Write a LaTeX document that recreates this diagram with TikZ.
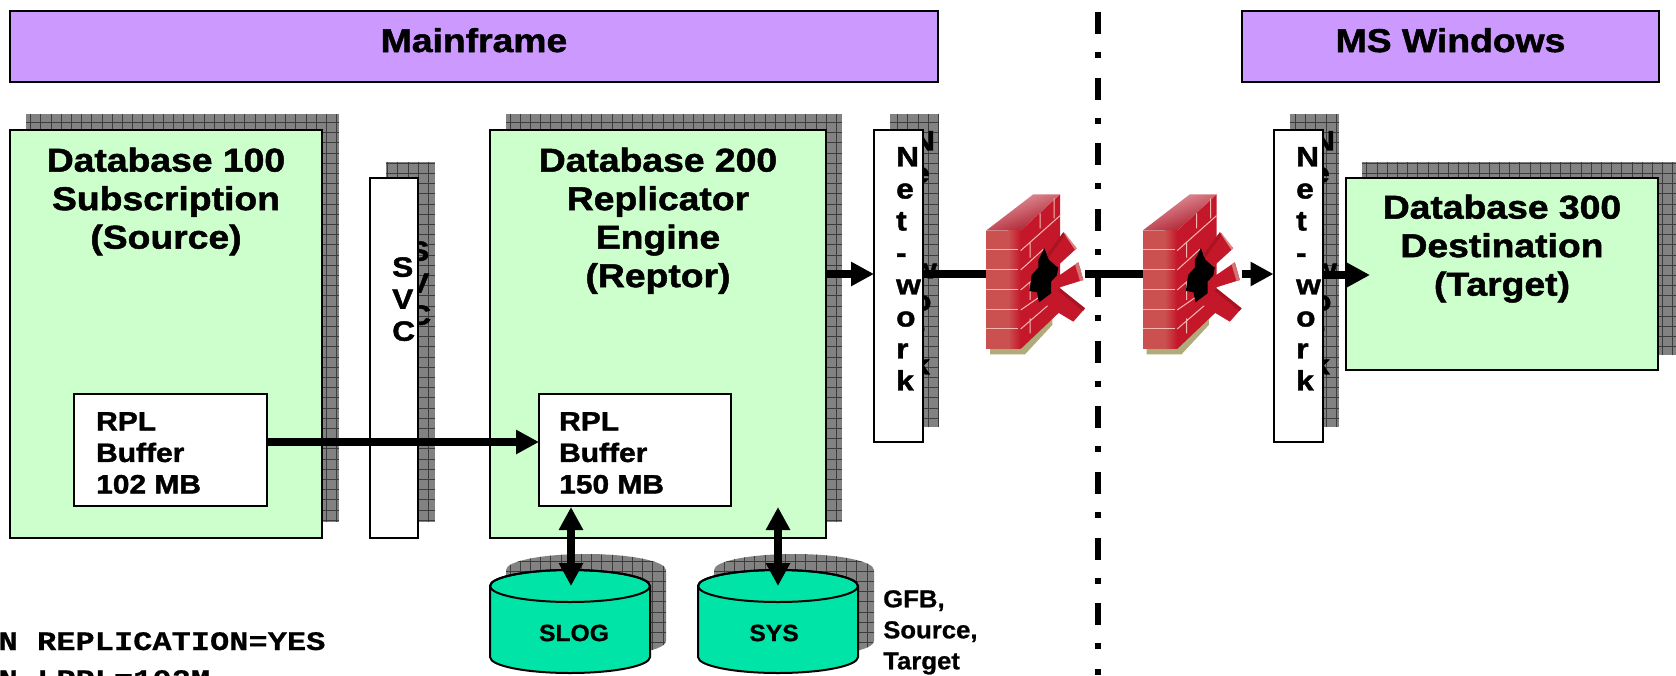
\documentclass[tikz,border=0pt]{standalone}
\usepackage{fontspec}
\usetikzlibrary{arrows.meta}
\newfontfamily\hf[FakeStretch=1.13,FakeBold=1.5]{Liberation Sans}
\newfontfamily\hg[FakeStretch=1.05,FakeBold=0.8]{Liberation Sans}
\newfontfamily\mf[FakeStretch=1.2,FakeBold=0.6]{Liberation Mono}
\definecolor{banner}{HTML}{CC99FF}
\definecolor{dbgreen}{HTML}{CCFFCC}
\definecolor{teal}{HTML}{00E4A8}
\definecolor{shadowgray}{HTML}{828282}
\definecolor{gridgray}{HTML}{3C3C3C}
\definecolor{brickfront}{HTML}{CB5050}
\definecolor{brickside}{HTML}{C4182A}
\definecolor{brickjoint}{HTML}{F4B8B0}
\definecolor{walltop}{HTML}{D8606C}
\definecolor{spikedark}{HTML}{A81422}
\tikzset{
  x=1pt,y=-1pt,
  frame/.style={draw=black,line width=2pt,inner sep=0pt,outer sep=0pt},
  bannerbox/.style={frame,fill=banner},
  dbbox/.style={frame,fill=dbgreen},
  whitebox/.style={frame,fill=white},
  bannertext/.style={inner sep=0pt,font=\hf\bfseries\fontsize{33}{38}\selectfont},
  titletext/.style={inner sep=0pt,align=center,font=\hf\bfseries\fontsize{33}{38.5}\selectfont},
  buftext/.style={inner sep=0pt,align=left,anchor=north west,font=\hf\bfseries\fontsize{26.5}{31.5}\selectfont},
  stacktext/.style={inner sep=0pt,align=left,anchor=north west,font=\hf\bfseries\fontsize{28}{32}\selectfont},
  disktext/.style={inner sep=0pt,font=\hg\bfseries\fontsize{23.5}{31}\selectfont},
  gfbtext/.style={inner sep=0pt,anchor=north west,align=left,font=\hg\bfseries\fontsize{24.5}{31}\selectfont},
  monotext/.style={inner sep=0pt,anchor=base west,font=\mf\bfseries\fontsize{26.7}{38}\selectfont},
  shadowgrid/.style={draw=gridgray,line width=0.7pt,step=10.2pt},
  heavy/.style={line width=8pt,draw=black},
  flow/.style={heavy,-{Triangle[length=23pt,width=23pt]}},
  twoway/.style={heavy,{Triangle[length=23pt,width=23pt]}-{Triangle[length=23pt,width=23pt]}},
}
\newcommand{\shadowrect}[4]{%
  \fill[shadowgray] (#1,#2) rectangle (#3,#4);
  \begin{scope}\clip (#1,#2) rectangle (#3,#4);
  \draw[shadowgrid] (#1,#4) grid (#3,#2);
  \end{scope}}
\newcommand{\cylpath}[4]{(#1,#2) -- (#1,#3) arc[start angle=180,end angle=0,x radius=80,y radius=16] -- (#4,#2) arc[start angle=0,end angle=-180,x radius=80,y radius=16] -- cycle}
\newcommand{\disk}[1]{%
  \pgfmathsetmacro{\xa}{#1}\pgfmathsetmacro{\xb}{#1+160}\pgfmathsetmacro{\xc}{#1+16}\pgfmathsetmacro{\xd}{#1+176}\pgfmathsetmacro{\xm}{#1+80}%
  \fill[shadowgray] \cylpath{\xc}{570}{641}{\xd};
  \begin{scope}\clip \cylpath{\xc}{570}{641}{\xd};
  \draw[shadowgrid] (\xc,660) grid (\xd,550);
  \end{scope}
  \draw[line width=2pt,fill=teal] \cylpath{\xa}{586}{657}{\xb};
  \draw[line width=2pt] (\xm,586) ellipse [x radius=80,y radius=16];}
\newcommand{\firewall}[1]{%
  \begin{scope}[shift={(#1,185)},x=0.3333pt,y=-0.3333pt]
  \fill[white] (20,20) rectangle (345,520);
  \fill[black!30!white!70!olive] (45,490) -- (45,508) -- (150,508) -- (232,420) -- (232,395) -- cycle;
  \fill[brickside] (137,137) -- (255,28) -- (255,380) -- (137,492) -- cycle;
  \shade[top color=walltop!60!white,bottom color=brickside!85!black,shading angle=20] (33,137) -- (175,28) -- (255,28) -- (137,137) -- cycle;
  \fill[brickfront] (33,137) rectangle (137,492);
  \shade[left color=brickfront,right color=brickside] (100,137) rectangle (137,492);
  \foreach \yy in {195,253,315,375,432}
    \draw[brickjoint,line width=1pt] (33,\yy) -- (130,\yy);
  \draw[brickjoint,line width=1pt]
    (137,197) -- (255,92)  (137,255) -- (205,193) (137,315) -- (170,287)
    (137,375) -- (195,335) (137,432) -- (232,350)
    (195,85) -- (195,130) (237,40) -- (237,100) (165,170) -- (165,218)
    (165,290) -- (165,345) (165,400) -- (165,445);
  \fill[black] (190,225) -- (208,190) -- (222,225) -- (250,248) -- (245,272) -- (228,290) -- (228,325) -- (192,352) -- (186,322) -- (163,318) -- (170,270) -- (190,248) -- cycle;
  % spikes
  \fill[brickside] (215,210) -- (265,142) -- (305,190) -- (245,245) -- cycle;
  \fill[spikedark] (215,210) -- (265,142) -- (272,147) -- (222,217) -- cycle;
  \fill[brickfront!70!white] (265,142) -- (272,147) -- (305,190) -- (300,195) -- cycle;
  \fill[brickside] (240,280) -- (310,232) -- (325,285) -- (245,310) -- cycle;
  \fill[brickfront!80!white] (300,238) -- (310,232) -- (325,285) -- (315,288) -- cycle;
  \fill[brickside] (215,360) -- (255,310) -- (330,370) -- (295,410) -- (245,380) -- cycle;
  \fill[spikedark] (255,310) -- (330,370) -- (324,378) -- (250,318) -- cycle;
  \end{scope}}
\begin{document}
\begin{tikzpicture}
\useasboundingbox (0,0) rectangle (1676,675);
\clip (0,0) rectangle (1676,675);

% banners
\node[bannerbox,minimum width=928pt,minimum height=71pt] (mainbar) at (474,46) {};
\node[bannertext,anchor=base] (maintxt) at (474,52) {Mainframe};
\node[bannerbox,minimum width=417pt,minimum height=71pt] (winbar) at (1450.5,46) {};
\node[bannertext,anchor=base] (wintxt) at (1450.5,52) {MS Windows};

% separator
\coordinate (sepT) at (1098,12);
\coordinate (sepB) at (1098,675);
\draw[line width=6pt,dash pattern=on 22pt off 18pt on 6pt off 19.7pt] (sepT) -- (sepB);

% shadows
\shadowrect{26}{114}{339}{522}
\shadowrect{386}{162}{435}{522}
\shadowrect{506}{114}{842}{522}
\shadowrect{890}{114}{939}{427}
\shadowrect{1290}{114}{1339}{427}
\shadowrect{1362}{162}{1676}{355}
\node[stacktext] (svcshadow) at (408,241) {S\\V\\C};
\node[stacktext] (net1shadow) at (912,131) {N\\e\\t\\-\\w\\o\\r\\k};
\node[stacktext] (net2shadow) at (1312,131) {N\\e\\t\\-\\w\\o\\r\\k};

% databases
\node[dbbox,minimum width=312pt,minimum height=408pt] (db100) at (166,334) {};
\node[titletext,anchor=north] (db100txt) at (166,147.5) {Database 100\\Subscription\\(Source)};
\node[whitebox,minimum width=193pt,minimum height=112pt] (buf1) at (170.5,450) {};
\node[buftext] (buf1txt) at (96,412) {RPL\\Buffer\\102 MB};

\node[whitebox,minimum width=48pt,minimum height=360pt] (svc) at (394,358) {};
\node[stacktext] (svctxt) at (392,257) {S\\V\\C};

\node[dbbox,minimum width=336pt,minimum height=408pt] (db200) at (658,334) {};
\node[titletext,anchor=north] (db200txt) at (658,147.5) {Database 200\\Replicator\\Engine\\(Reptor)};
\node[whitebox,minimum width=192pt,minimum height=112pt] (buf2) at (635,450) {};
\node[buftext] (buf2txt) at (559,412) {RPL\\Buffer\\150 MB};

\node[whitebox,minimum width=49pt,minimum height=312pt] (net1) at (898.5,286) {};
\node[stacktext] (net1txt) at (896,147) {N\\e\\t\\-\\w\\o\\r\\k};
\node[whitebox,minimum width=49pt,minimum height=312pt] (net2) at (1298,286) {};
\node[stacktext] (net2txt) at (1296,147) {N\\e\\t\\-\\w\\o\\r\\k};

\node[dbbox,minimum width=312pt,minimum height=192pt] (db300) at (1502,274) {};
\node[titletext,anchor=north] (db300txt) at (1502,194.5) {Database 300\\Destination\\(Target)};

% disks
\disk{490}
\disk{698}
\node[disktext] (slog) at (574,633) {SLOG};
\node[disktext] (sys) at (774,633) {SYS};
\node[gfbtext] (gfb) at (883,590) {GFB,\\Source,\\Target};

% firewalls
\firewall{975}
\firewall{1131.5}
\coordinate (fw1w) at (986,274);
\coordinate (fw1e) at (1085,274);
\coordinate (fw2w) at (1143,274);
\coordinate (fw2e) at (1242,274);

% connectors
\draw[flow] (db200.east |- fw1w) -- (net1.west |- fw1w);
\draw[heavy] (net1.east |- fw1w) -- (fw1w);
\draw[heavy] (fw1e) -- (fw2w);
\draw[flow] (fw2e) -- (net2.west |- fw2e);
\coordinate (dest) at (1370,275);
\draw[flow] (net2.east |- dest) -- (dest);
\coordinate (bufrow) at (400,442);
\draw[flow] (buf1.east |- bufrow) -- (buf2.west |- bufrow);
\coordinate (slogtop) at (571,586);
\coordinate (slogup) at (571,507);
\draw[twoway] (slogup) -- (slogtop);
\coordinate (systop) at (778,586);
\coordinate (sysup) at (778,507);
\draw[twoway] (sysup) -- (systop);

% statement text
\node[monotext] (stmt1) at (-1.6,650) {N REPLICATION=YES};
\node[monotext] (stmt2) at (-1.6,688) {N LRPL=102M};
\end{tikzpicture}
\end{document}
